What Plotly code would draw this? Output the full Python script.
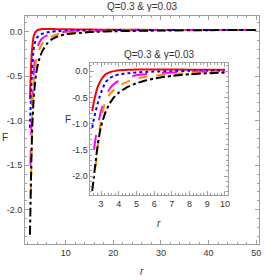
import plotly.graph_objects as go

r = [2.5, 2.6, 2.7, 2.8, 2.9, 3.0, 3.25, 3.5, 3.75, 4.0, 4.5, 5.0, 5.5, 6.0, 7.0, 8.0, 9.0, 10.0, 15, 20, 30, 40, 50]
F_red = [-0.76, -0.58, -0.43, -0.31, -0.23, -0.17, -0.06, -0.02, 0.0, 0.015, 0.025, 0.03, 0.03, 0.03, 0.03, 0.028, 0.027, 0.026, 0.023, 0.022, 0.02, 0.02, 0.02]
F_blue = [-1.08, -0.90, -0.76, -0.63, -0.51, -0.41, -0.21, -0.13, -0.09, -0.065, -0.04, -0.025, -0.015, -0.008, 0.0, 0.005, 0.008, 0.01, 0.015, 0.018, 0.02, 0.02, 0.02]
F_magenta = [None, -1.50, -1.26, -1.07, -0.90, -0.76, -0.50, -0.33, -0.24, -0.18, -0.12, -0.08, -0.06, -0.045, -0.025, -0.012, -0.005, 0.0, 0.01, 0.015, 0.018, 0.02, 0.02]
F_orange = [None, None, -1.82, -1.50, -1.17, -0.92, -0.58, -0.44, -0.35, -0.28, -0.20, -0.14, -0.11, -0.085, -0.055, -0.035, -0.022, -0.013, 0.0, 0.008, 0.015, 0.018, 0.02]
F_black = [-2.28, -2.0, -1.70, -1.43, -1.22, -1.05, -0.78, -0.61, -0.49, -0.41, -0.30, -0.23, -0.18, -0.14, -0.09, -0.06, -0.04, -0.028, -0.005, 0.005, 0.013, 0.017, 0.02]

series = [
    (F_red, "#ff0000", "solid"),
    (F_blue, "#0000ff", "dot"),
    (F_magenta, "#ff00ff", "longdash"),
    (F_orange, "#ff8c00", "dash"),
    (F_black, "#000000", "dashdot"),
]

y_ticks = [-2.0, -1.5, -1.0, -0.5, 0.0]
y_ticktext = ["-2.0", "-1.5", "-1.0", "-0.5", "0.0"]
x_main_ticks = [10, 20, 30, 40, 50]
x_inset_ticks = [3, 4, 5, 6, 7, 8, 9, 10]
title_text = "Q=0.3 & γ=0.03"

FONT = "Liberation Sans Narrow, Arial Narrow, Liberation Sans, sans-serif"
FRAME = "#a0a0a0"
TXT = "#333333"

fig = go.Figure()
for vals, col, dash in series:
    fig.add_trace(go.Scatter(x=r, y=vals, mode="lines", line=dict(color=col, width=2, dash=dash, shape="spline", smoothing=0.5),
                             xaxis="x", yaxis="y", showlegend=False, connectgaps=False))
for vals, col, dash in series:
    xs = [a for a, b in zip(r, vals) if a <= 10.2]
    ys = [b for a, b in zip(r, vals) if a <= 10.2]
    fig.add_trace(go.Scatter(x=xs, y=ys, mode="lines", line=dict(color=col, width=2, dash=dash, shape="spline", smoothing=0.5),
                             xaxis="x2", yaxis="y2", showlegend=False))

axis_common = dict(showgrid=False, zeroline=False, showline=True, linecolor=FRAME, linewidth=1, mirror="allticks",
                   ticks="inside", ticklen=4, tickcolor=FRAME, tickfont=dict(family=FONT, size=9, color=TXT))

fig.update_layout(
    width=266, height=280,
    margin=dict(l=25, r=5, t=16, b=36),
    plot_bgcolor="white", paper_bgcolor="white",
    font=dict(family=FONT, color=TXT),
    xaxis=dict(domain=[0, 1], range=[1.46, 50.6], tickvals=x_main_ticks,
               minor=dict(dtick=2, tick0=0, ticklen=2, ticks="inside", tickcolor=FRAME), **axis_common),
    yaxis=dict(domain=[0, 1], range=[-2.385, 0.176], tickvals=y_ticks, ticktext=y_ticktext,
               minor=dict(dtick=0.1, tick0=0, ticklen=2, ticks="inside", tickcolor=FRAME), **axis_common),
    xaxis2=dict(domain=[0.2797, 0.8686], anchor="y2", range=[2.4, 10.19], tickvals=x_inset_ticks,
                minor=dict(dtick=0.2, tick0=0, ticklen=2, ticks="inside", tickcolor=FRAME), **axis_common),
    yaxis2=dict(domain=[0.215, 0.795], anchor="x2", range=[-2.36, 0.16], tickvals=y_ticks, ticktext=y_ticktext,
                minor=dict(dtick=0.1, tick0=0, ticklen=2, ticks="inside", tickcolor=FRAME), **axis_common),
    annotations=[
        dict(text=title_text, x=0.5, y=1.0395, xref="paper", yref="paper", showarrow=False,
             font=dict(family=FONT, size=10, color=TXT), xanchor="center", yanchor="middle"),
        dict(text="<i>r</i>", x=0.5, y=-0.1228, xref="paper", yref="paper", showarrow=False,
             font=dict(family=FONT, size=10, color=TXT), xanchor="center", yanchor="middle"),
        dict(text="F", x=-0.0847, y=0.465, xref="paper", yref="paper", showarrow=False,
             font=dict(family=FONT, size=10, color=TXT), xanchor="center", yanchor="middle"),
        dict(text=title_text, x=0.572, y=0.833, xref="paper", yref="paper", showarrow=False,
             font=dict(family=FONT, size=10, color=TXT), xanchor="center", yanchor="middle"),
        dict(text="F", x=0.182, y=0.544, xref="paper", yref="paper", showarrow=False,
             font=dict(family=FONT, size=10, color=TXT), xanchor="center", yanchor="middle"),
        dict(text="<i>r</i>", x=0.572, y=0.092, xref="paper", yref="paper", showarrow=False,
             font=dict(family=FONT, size=10, color=TXT), xanchor="center", yanchor="middle"),
    ],
)

fig.write_html("out.html", config={"displayModeBar": False},
               post_script="document.body.style.margin='0';document.body.style.overflow='hidden';")
